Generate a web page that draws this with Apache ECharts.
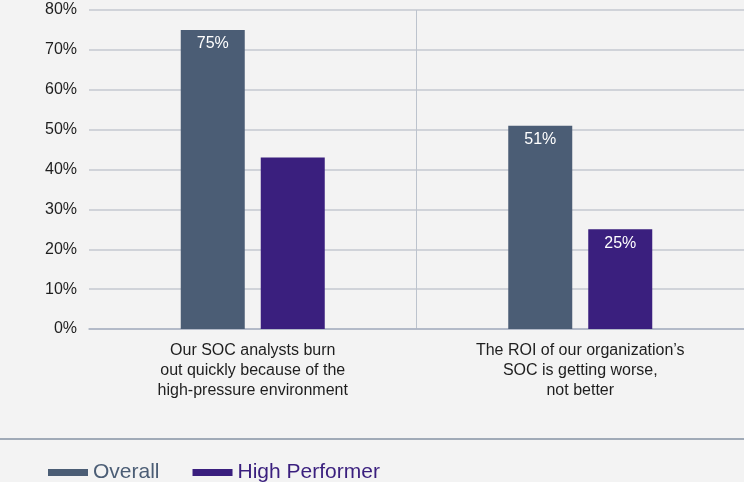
<!DOCTYPE html>
<html>
<head>
<meta charset="utf-8">
<script src="https://cdn.jsdelivr.net/npm/echarts@6/dist/echarts.min.js"></script>
<style>
  html, body { margin: 0; padding: 0; background: #f3f3f3; }
  #chart { width: 744px; height: 482px; }
</style>
</head>
<body>
<div id="chart"></div>
<script>
// data
const categories = [
  'Our SOC analysts burn\nout quickly because of the\nhigh-pressure environment',
  'The ROI of our organization\u2019s\nSOC is getting worse,\nnot better'
];
const overall = [75, 51];
const highPerformer = [43, 25];
const hpLabelShown = [false, true]; // the 43% label is not printed in the original
const yTicks = [0, 80, 10];         // min, max, step

const font = '"Liberation Sans", Arial, Helvetica, sans-serif';

let myChart = echarts.init(document.getElementById('chart'));
myChart.setOption({
  backgroundColor: '#f3f3f3',
  animation: false,
  textStyle: { fontFamily: font },
  grid: { left: 89, right: 0, top: 10, bottom: 153 },
  legend: {
    left: 43,
    top: 457,
    icon: 'rect',
    itemWidth: 40,
    itemHeight: 7,
    itemGap: 33,
    textStyle: { fontSize: 21, fontFamily: font },
    data: [
      { name: 'Overall', textStyle: { color: '#4b5d75' } },
      { name: 'High Performer', textStyle: { color: '#3a1f7e' } }
    ]
  },
  graphic: [{
    type: 'line',
    shape: { x1: 0, y1: 439, x2: 744, y2: 439 },
    style: { stroke: '#8592a3', lineWidth: 1.5 }
  }],
  xAxis: {
    type: 'category',
    data: categories,
    axisLine: { lineStyle: { color: '#a9b3c2', width: 1.5 } },
    axisTick: { show: false },
    axisLabel: { color: '#1e1e1e', fontSize: 16, lineHeight: 20, margin: 12, fontFamily: font },
    splitLine: { show: true, showMinLine: false, showMaxLine: false, lineStyle: { color: '#bcc3cd', width: 1 } }
  },
  yAxis: {
    type: 'value',
    min: yTicks[0],
    max: yTicks[1],
    interval: yTicks[2],
    axisLine: { show: false },
    axisTick: { show: false },
    axisLabel: { formatter: '{value}%', color: '#1e1e1e', fontSize: 16, margin: 12, fontFamily: font },
    splitLine: { lineStyle: { color: '#c5c9d1', width: 1.5 } }
  },
  series: [
    {
      name: 'Overall',
      type: 'bar',
      data: overall,
      barWidth: 64,
      barGap: '25%',
      itemStyle: { color: '#4b5d75' },
      label: { show: true, position: 'insideTop', distance: 6, color: '#fff', fontSize: 16, formatter: '{c}%' }
    },
    {
      name: 'High Performer',
      type: 'bar',
      data: highPerformer.map((v, i) => ({ value: v, label: { show: hpLabelShown[i] } })),
      barWidth: 64,
      barGap: '25%',
      itemStyle: { color: '#3a1f7e' },
      label: { show: true, position: 'insideTop', distance: 6, color: '#fff', fontSize: 16, formatter: '{c}%' }
    }
  ]
});
window.addEventListener('resize', function () { myChart.resize(); });
</script>
</body>
</html>
